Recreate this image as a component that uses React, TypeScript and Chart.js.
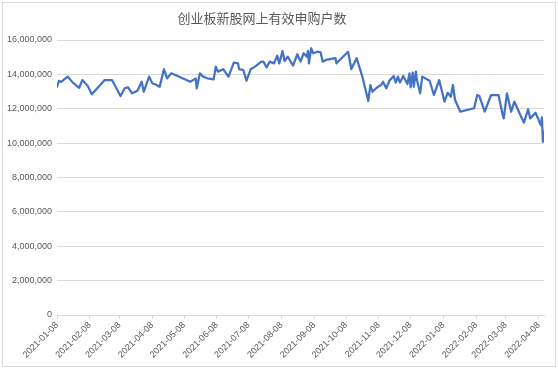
import React, { useEffect, useRef } from "react";
import { Chart, registerables } from "chart.js";

Chart.register(...registerables);

const TITLE = "创业板新股网上有效申购户数";

const dates: string[] = [
  "2021-01-08", "2021-01-10", "2021-01-12", "2021-01-18", "2021-01-23", "2021-01-29",
  "2021-02-01", "2021-02-06", "2021-02-10", "2021-02-22", "2021-03-01", "2021-03-09",
  "2021-03-13", "2021-03-16", "2021-03-20", "2021-03-25", "2021-03-29", "2021-03-31",
  "2021-04-05", "2021-04-08", "2021-04-12", "2021-04-15", "2021-04-19", "2021-04-22",
  "2021-04-26", "2021-05-14", "2021-05-19", "2021-05-20", "2021-05-23", "2021-05-26",
  "2021-05-30", "2021-06-05", "2021-06-07", "2021-06-09", "2021-06-14", "2021-06-19",
  "2021-06-24", "2021-06-28", "2021-06-29", "2021-07-03", "2021-07-06", "2021-07-10",
  "2021-07-14", "2021-07-20", "2021-07-22", "2021-07-25", "2021-07-28", "2021-08-01",
  "2021-08-04", "2021-08-06", "2021-08-09", "2021-08-11", "2021-08-14", "2021-08-19",
  "2021-08-23", "2021-08-26", "2021-08-29", "2021-09-01", "2021-09-02", "2021-09-03",
  "2021-09-05", "2021-09-07", "2021-09-11", "2021-09-14", "2021-09-16", "2021-09-19",
  "2021-09-28", "2021-09-29", "2021-10-01", "2021-10-10", "2021-10-13", "2021-10-18",
  "2021-10-23", "2021-10-29", "2021-10-31", "2021-11-02", "2021-11-06", "2021-11-10",
  "2021-11-12", "2021-11-15", "2021-11-18", "2021-11-22", "2021-11-24", "2021-11-26",
  "2021-11-28", "2021-12-01", "2021-12-03", "2021-12-05", "2021-12-07", "2021-12-08",
  "2021-12-10", "2021-12-11", "2021-12-13", "2021-12-14", "2021-12-17", "2021-12-19",
  "2021-12-26", "2021-12-30", "2022-01-04", "2022-01-09", "2022-01-12", "2022-01-15",
  "2022-01-17", "2022-01-19", "2022-01-24", "2022-02-06", "2022-02-09", "2022-02-11",
  "2022-02-16", "2022-02-22", "2022-03-01", "2022-03-05", "2022-03-06", "2022-03-09",
  "2022-03-13", "2022-03-16", "2022-03-25", "2022-03-29", "2022-03-31", "2022-04-05",
  "2022-04-10", "2022-04-11", "2022-04-12", "2022-04-13",
];

const accounts: number[] = [
  13280000, 13630000, 13570000, 13870000, 13520000, 13220000,
  13670000, 13320000, 12840000, 13670000, 13670000, 12740000,
  13190000, 13250000, 12900000, 13050000, 13570000, 12990000,
  13870000, 13480000, 13380000, 13280000, 14300000, 13770000,
  14060000, 13570000, 13770000, 13190000, 14060000, 13870000,
  13770000, 13710000, 14450000, 14160000, 14300000, 13870000,
  14680000, 14640000, 14300000, 14250000, 13630000, 14300000,
  14450000, 14740000, 14740000, 14410000, 14740000, 14640000,
  15090000, 14640000, 15360000, 14780000, 15030000, 14510000,
  15170000, 14740000, 15230000, 15030000, 15360000, 14640000,
  15520000, 15230000, 15320000, 15280000, 14740000, 14840000,
  14940000, 14640000, 14780000, 15320000, 14310000, 14940000,
  13960000, 12450000, 13380000, 12990000, 13220000, 13380000,
  13570000, 13190000, 13630000, 13910000, 13520000, 13870000,
  13520000, 13910000, 13670000, 13440000, 14060000, 13250000,
  14100000, 13280000, 14160000, 13670000, 12900000, 13870000,
  13630000, 12800000, 13670000, 12410000, 12930000, 12700000,
  13380000, 12510000, 11830000, 12030000, 12800000, 12740000,
  11830000, 12800000, 12800000, 11640000, 11440000, 12900000,
  11830000, 12410000, 11190000, 11970000, 11440000, 11770000,
  11050000, 11500000, 10080000, 10660000,
];

const xTickLabels: string[] = [
  "2021-01-08", "2021-02-08", "2021-03-08", "2021-04-08", "2021-05-08",
  "2021-06-08", "2021-07-08", "2021-08-08", "2021-09-08", "2021-10-08",
  "2021-11-08", "2021-12-08", "2022-01-08", "2022-02-08", "2022-03-08",
  "2022-04-08",
];

const BASE = Date.UTC(2021, 0, 8);
const dayOf = (s: string): number => {
  const [y, m, d] = s.split("-").map(Number);
  return Math.round((Date.UTC(y, m - 1, d) - BASE) / 86400000);
};

const labelByDay: Record<number, string> = {};
xTickLabels.forEach((l) => {
  labelByDay[dayOf(l)] = l;
});

export default function App() {
  const canvasRef = useRef<HTMLCanvasElement | null>(null);

  useEffect(() => {
    if (!canvasRef.current) return;
    const points = dates.map((d, i) => ({ x: dayOf(d), y: accounts[i] }));
    const chart = new Chart(canvasRef.current, {
      type: "line",
      data: {
        datasets: [
          {
            label: TITLE,
            data: points,
            borderColor: "#4472C4",
            backgroundColor: "#4472C4",
            borderWidth: 2.25,
            pointRadius: 0,
            tension: 0,
            borderJoinStyle: "round",
            borderCapStyle: "round",
          },
        ],
      },
      options: {
        responsive: false,
        animation: false,
        layout: { padding: { top: 40, right: 14, left: 0, bottom: 0 } },
        plugins: {
          legend: { display: false },
          title: { display: false },
          tooltip: { enabled: false },
        },
        scales: {
          x: {
            type: "linear",
            min: dayOf(dates[0]),
            max: dayOf(dates[dates.length - 1]),
            afterBuildTicks: (scale: any) => {
              scale.ticks = xTickLabels.map((l) => ({ value: dayOf(l) }));
            },
            afterFit: (scale: any) => {
              scale.height = 55;
            },
            grid: {
              drawOnChartArea: false,
              drawTicks: true,
              tickLength: 4,
              color: "#d9d9d9",
            },
            border: { display: true, color: "#d9d9d9", width: 1 },
            ticks: {
              autoSkip: false,
              minRotation: 45,
              maxRotation: 45,
              padding: 1,
              color: "#595959",
              font: { family: "'Liberation Sans', Arial, sans-serif", size: 9 },
              callback: (v: any) => labelByDay[Math.round(Number(v))] ?? "",
            },
          },
          y: {
            type: "linear",
            min: 0,
            max: 16000000,
            afterFit: (scale: any) => {
              scale.width = 57;
            },
            grid: { color: "#d9d9d9", drawTicks: false, lineWidth: 1 },
            border: { display: false },
            ticks: {
              stepSize: 2000000,
              padding: 5,
              color: "#595959",
              font: { family: "'Liberation Sans', Arial, sans-serif", size: 9 },
              callback: (v: any) => Number(v).toLocaleString("en-US"),
            },
          },
        },
      },
    });
    return () => chart.destroy();
  }, []);

  return (
    <div
      style={{
        position: "fixed",
        left: 0,
        top: 0,
        width: 558,
        height: 370,
        background: "#ffffff",
      }}
    >
      <canvas
        ref={canvasRef}
        width={558}
        height={370}
        style={{ position: "absolute", left: 0, top: 0, width: 558, height: 370 }}
      />
      <div
        style={{
          position: "absolute",
          left: 2,
          top: 2,
          width: 554,
          height: 365,
          boxSizing: "border-box",
          border: "1px solid #d9d9d9",
          pointerEvents: "none",
        }}
      />
      <div
        style={{
          position: "absolute",
          left: 0,
          top: 9,
          width: 524,
          textAlign: "center",
          fontFamily: "'Noto Sans CJK SC', sans-serif",
          fontSize: 13,
          lineHeight: "18px",
          color: "#595959",
          letterSpacing: 0,
        }}
      >
        {TITLE}
      </div>
    </div>
  );
}
